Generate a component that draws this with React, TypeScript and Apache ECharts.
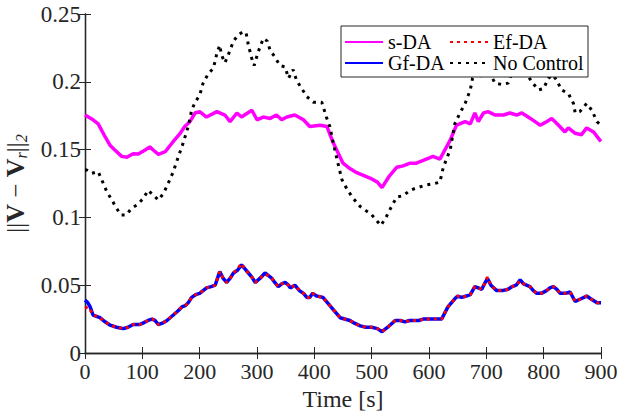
import React, { useEffect, useRef } from "react";
import * as echarts from "echarts";

const xTicks = { min: 0, max: 900, interval: 100 };
const yTicks = { min: 0, max: 0.25, interval: 0.05 };

// [time (s), value]
const sDA: [number, number][] = [
  [0, 0.1755], [14, 0.172], [23, 0.169], [35, 0.1595], [44, 0.153], [52, 0.1497], [64, 0.145], [73, 0.1443],
  [84, 0.147], [93, 0.1468], [105, 0.1497], [113, 0.152], [119, 0.1497], [128, 0.1465], [140, 0.1485], [154, 0.156],
  [166, 0.162], [174, 0.167], [183, 0.1706], [192, 0.177], [200, 0.178], [212, 0.174], [230, 0.178], [244, 0.1755],
  [253, 0.1706], [265, 0.177], [273, 0.174], [291, 0.179], [300, 0.172], [311, 0.174], [323, 0.173], [334, 0.1755],
  [343, 0.172], [352, 0.174], [366, 0.1755], [381, 0.172], [392, 0.167], [410, 0.168], [422, 0.167], [433, 0.155],
  [450, 0.14], [462, 0.136], [474, 0.133], [497, 0.129], [510, 0.126], [518, 0.122], [530, 0.13], [544, 0.137],
  [555, 0.138], [567, 0.14], [578, 0.14], [590, 0.142], [607, 0.145], [619, 0.143], [637, 0.157], [648, 0.168],
  [663, 0.1706], [672, 0.169], [680, 0.177], [686, 0.1706], [695, 0.177], [703, 0.178], [715, 0.1755], [730, 0.1755],
  [741, 0.177], [753, 0.1755], [762, 0.177], [773, 0.174], [785, 0.1706], [794, 0.168], [805, 0.1706], [814, 0.173],
  [826, 0.168], [837, 0.163], [843, 0.166], [855, 0.162], [866, 0.161], [875, 0.166], [887, 0.163], [898, 0.157], [900, 0.156],
];

const noControl: [number, number][] = [
  [0, 0.135], [3, 0.135], [12, 0.1325], [23, 0.1337], [32, 0.125], [38, 0.119], [47, 0.1128], [55, 0.1067],
  [63, 0.1018], [72, 0.1018], [81, 0.1067], [90, 0.109], [102, 0.114], [110, 0.12], [119, 0.1165], [128, 0.1128],
  [137, 0.1178], [145, 0.125], [154, 0.1337], [163, 0.145], [171, 0.1546], [180, 0.167], [186, 0.179], [192, 0.185],
  [200, 0.19], [206, 0.199], [215, 0.206], [224, 0.21], [230, 0.221], [235, 0.227], [238, 0.22], [244, 0.214],
  [250, 0.22], [259, 0.23], [267, 0.2345], [276, 0.237], [281, 0.236], [285, 0.227], [291, 0.217], [295, 0.212],
  [302, 0.222], [311, 0.232], [318, 0.23], [323, 0.223], [331, 0.2185], [340, 0.212], [349, 0.211], [355, 0.2026],
  [363, 0.209], [369, 0.201], [378, 0.195], [387, 0.189], [398, 0.185], [413, 0.185], [421, 0.174], [427, 0.167],
  [433, 0.155], [440, 0.142], [448, 0.128], [458, 0.12], [468, 0.114], [480, 0.108], [490, 0.105], [500, 0.102],
  [510, 0.097], [516, 0.094], [525, 0.1], [537, 0.11], [544, 0.115], [555, 0.116], [567, 0.12], [580, 0.122],
  [596, 0.124], [610, 0.125], [619, 0.126], [625, 0.137], [637, 0.15], [645, 0.169], [654, 0.177], [663, 0.184],
  [672, 0.194], [676, 0.2026], [685, 0.208], [692, 0.204], [700, 0.21], [708, 0.205], [715, 0.199], [727, 0.198],
  [738, 0.199], [745, 0.207], [755, 0.212], [765, 0.21], [772, 0.205], [779, 0.2], [791, 0.194], [800, 0.195],
  [808, 0.2026], [816, 0.205], [823, 0.201], [831, 0.194], [843, 0.1915], [852, 0.184], [855, 0.177], [863, 0.178],
  [875, 0.184], [884, 0.179], [893, 0.1706], [900, 0.168],
];

const gf_t = [0, 5, 9, 14, 20, 26, 35, 44, 55, 67, 75, 84, 95, 101, 110, 117, 122, 128, 135, 143, 154, 162, 169, 175, 180, 186, 193, 200, 206, 212, 220, 227, 235, 241, 247, 253, 259, 266, 273, 279, 285, 291, 297, 305, 314, 320, 326, 331, 337, 343, 349, 355, 358, 366, 374, 381, 387, 392, 397, 404, 415, 425, 433, 445, 462, 470, 480, 490, 500, 510, 518, 528, 541, 550, 558, 566, 573, 582, 590, 600, 608, 622, 633, 645, 650, 657, 665, 672, 680, 686, 692, 698, 702, 708, 718, 728, 738, 745, 752, 759, 765, 770, 776, 782, 788, 796, 805, 811, 817, 823, 829, 838, 846, 855, 865, 875, 882, 893, 900];
const gf_v = [0.039, 0.037, 0.034, 0.028, 0.027, 0.026, 0.023, 0.0205, 0.019, 0.018, 0.019, 0.021, 0.021, 0.022, 0.024, 0.025, 0.024, 0.021, 0.022, 0.024, 0.028, 0.031, 0.034, 0.035, 0.037, 0.041, 0.043, 0.044, 0.046, 0.048, 0.049, 0.05, 0.06, 0.055, 0.052, 0.055, 0.059, 0.061, 0.065, 0.062, 0.059, 0.056, 0.052, 0.055, 0.059, 0.057, 0.055, 0.052, 0.049, 0.051, 0.052, 0.05, 0.048, 0.05, 0.046, 0.044, 0.041, 0.041, 0.044, 0.042, 0.041, 0.036, 0.032, 0.026, 0.024, 0.022, 0.02, 0.019, 0.019, 0.018, 0.0157, 0.019, 0.024, 0.024, 0.023, 0.024, 0.024, 0.024, 0.025, 0.025, 0.025, 0.025, 0.034, 0.04, 0.042, 0.041, 0.042, 0.043, 0.049, 0.048, 0.047, 0.052, 0.055, 0.05, 0.046, 0.046, 0.047, 0.049, 0.05, 0.054, 0.051, 0.05, 0.049, 0.046, 0.044, 0.044, 0.046, 0.048, 0.049, 0.047, 0.044, 0.044, 0.045, 0.038, 0.04, 0.042, 0.04, 0.037, 0.037];

const ef_t = gf_t;
const ef_v = [0.033, 0.034, 0.032, 0.028, 0.027, 0.026, 0.023, 0.0205, 0.019, 0.018, 0.019, 0.021, 0.021, 0.022, 0.024, 0.025, 0.024, 0.021, 0.022, 0.024, 0.028, 0.031, 0.034, 0.035, 0.037, 0.041, 0.043, 0.044, 0.046, 0.048, 0.049, 0.05, 0.06, 0.055, 0.052, 0.055, 0.059, 0.062, 0.066, 0.062, 0.059, 0.056, 0.052, 0.055, 0.058, 0.057, 0.055, 0.052, 0.049, 0.051, 0.052, 0.05, 0.048, 0.05, 0.046, 0.044, 0.041, 0.041, 0.044, 0.042, 0.041, 0.036, 0.032, 0.026, 0.024, 0.022, 0.02, 0.019, 0.019, 0.018, 0.0157, 0.019, 0.024, 0.024, 0.023, 0.024, 0.024, 0.024, 0.025, 0.025, 0.025, 0.025, 0.034, 0.04, 0.042, 0.041, 0.042, 0.043, 0.049, 0.048, 0.047, 0.052, 0.056, 0.05, 0.046, 0.046, 0.047, 0.049, 0.05, 0.053, 0.051, 0.05, 0.049, 0.046, 0.044, 0.044, 0.046, 0.048, 0.049, 0.047, 0.044, 0.044, 0.045, 0.038, 0.04, 0.042, 0.04, 0.037, 0.037];

const names = ["s-DA", "Gf-DA", "Ef-DA", "No Control"];

const zip = (t: number[], v: number[]) => t.map((x, i) => [x, v[i]]);

const FONT = "'Liberation Serif', 'Times New Roman', serif";
const AXC = "#262626";

export default function App() {
  const ref = useRef<HTMLDivElement>(null);
  useEffect(() => {
    if (!ref.current) return;
    const chart = echarts.init(ref.current, null, { renderer: "svg" });
    const axisCommon = {
      axisLine: { show: true, lineStyle: { color: AXC, width: 1.3 } },
      axisTick: { show: true, inside: true, length: 6, lineStyle: { color: AXC, width: 1 } },
      splitLine: { show: false },
    };
    const legendCommon = {
      orient: "vertical",
      top: 32,
      padding: 0,
      itemWidth: 38,
      itemHeight: 10,
      itemGap: 1,
      itemStyle: { opacity: 0 },
      textStyle: { fontFamily: FONT, fontSize: 20, color: "#000", lineHeight: 20 },
      z: 6,
    };
    chart.setOption({
      animation: false,
      backgroundColor: "#fff",
      grid: { left: 85, right: 16, top: 14, bottom: 63, outerBoundsMode: "none", containLabel: false },
      xAxis: [
        {
          type: "value",
          ...xTicks,
          ...axisCommon,
          position: "bottom",
          axisLabel: { color: AXC, fontFamily: FONT, fontSize: 22, margin: 7 },
          name: "Time [s]",
          nameLocation: "middle",
          nameGap: 34,
          nameTextStyle: { color: AXC, fontFamily: FONT, fontSize: 24 },
        },
        {
          type: "value",
          ...xTicks,
          ...axisCommon,
          position: "top",
          axisLabel: { show: false },
        },
      ],
      yAxis: [
        {
          type: "value",
          ...yTicks,
          ...axisCommon,
          position: "left",
          axisLabel: { color: AXC, fontFamily: FONT, fontSize: 23, margin: 4 },
          name: "{n|||}{b|V}{n| − }{b|V}{s|r}{n|||}{s|2}",
          nameLocation: "middle",
          nameRotate: 90,
          nameGap: 52,
          nameTextStyle: {
            color: AXC,
            fontFamily: FONT,
            rich: {
              n: { fontFamily: FONT, fontSize: 25, color: AXC, lineHeight: 28, verticalAlign: "middle" },
              b: { fontFamily: FONT, fontSize: 26, fontWeight: "bold", color: AXC, lineHeight: 28, verticalAlign: "middle" },
              s: { fontFamily: FONT, fontSize: 16, fontStyle: "italic", color: AXC, lineHeight: 16, padding: [12, 0, 0, 0], verticalAlign: "bottom" },
            },
          },
        },
        {
          type: "value",
          ...yTicks,
          ...axisCommon,
          position: "right",
          axisLabel: { show: false },
        },
      ],
      legend: [
        { ...legendCommon, data: ["s-DA", "Gf-DA"], left: 344 },
        { ...legendCommon, data: ["Ef-DA", "No Control"], left: 449 },
      ],
      graphic: [
        {
          type: "rect",
          z: 5,
          shape: { x: 341, y: 26, width: 247, height: 51 },
          style: { fill: "#fff", stroke: AXC, lineWidth: 1 },
        },
      ],
      series: [
        {
          name: names[0],
          type: "line",
          data: sDA,
          symbol: "none",
          lineStyle: { color: "#ff00ff", width: 3.5 },
          itemStyle: { color: "#ff00ff" },
          z: 2,
        },
        {
          name: names[1],
          type: "line",
          data: zip(gf_t, gf_v),
          symbol: "none",
          lineStyle: { color: "#0000ff", width: 3.5 },
          itemStyle: { color: "#0000ff" },
          z: 3,
        },
        {
          name: names[2],
          type: "line",
          data: zip(ef_t, ef_v),
          symbol: "none",
          lineStyle: { color: "#ff0000", width: 3, type: [3, 4] },
          itemStyle: { color: "#ff0000" },
          z: 4,
        },
        {
          name: names[3],
          type: "line",
          data: noControl,
          symbol: "none",
          lineStyle: { color: "#000000", width: 3, type: [3, 5] },
          itemStyle: { color: "#000000" },
          z: 4,
        },
      ],
    });
    return () => chart.dispose();
  }, []);
  return <div ref={ref} style={{ width: 617, height: 416, position: "absolute", left: 0, top: 0 }} />;
}
